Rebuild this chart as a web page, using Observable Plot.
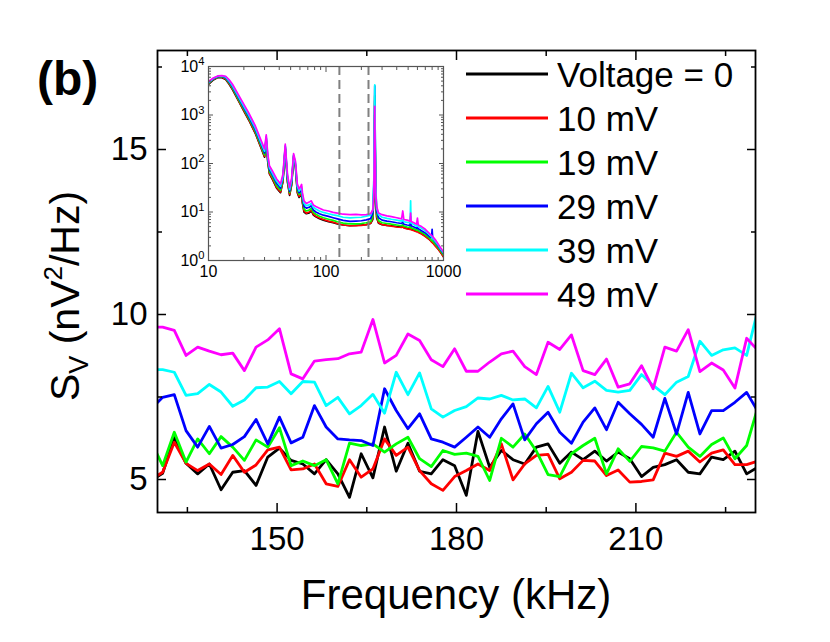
<!DOCTYPE html>
<html><head><meta charset="utf-8">
<script src="https://cdn.jsdelivr.net/npm/d3@7"></script>
<script src="https://cdn.jsdelivr.net/npm/@observablehq/plot@0.6"></script>
<style>
body{margin:0;background:#fff;}
#wrap{position:relative;width:830px;height:642px;}
</style></head><body><div id="wrap"></div>
<script>
// ---- series definitions ----
const seriesLabels = ["Voltage = 0", "10 mV", "19 mV", "29 mV", "39 mV", "49 mV"];
const seriesColors = ["#000000", "#ff0000", "#00ff00", "#0000ff", "#00ffff", "#ff00ff"];

// ---- main plot data (frequency in kHz, S_V in nV^2/Hz) ----
const freqs = [128.91,130.86,132.81,134.77,136.72,138.67,140.63,142.58,144.53,146.48,148.44,150.39,152.34,154.30,156.25,158.20,160.16,162.11,164.06,166.02,167.97,169.92,171.88,173.83,175.78,177.73,179.69,181.64,183.59,185.55,187.50,189.45,191.41,193.36,195.31,197.27,199.22,201.17,203.13,205.08,207.03,208.98,210.94,212.89,214.84,216.80,218.75,220.70,222.66,224.61,226.56,228.52,230.47];
const sv0mV  = [4.97,5.19,6.28,5.49,5.17,5.47,4.69,5.22,5.27,4.82, 5.68,5.95,5.58,5.47,5.17,5.60,5.17,4.46,5.78,5.05, 6.59,5.25,6.10,5.25,5.17,5.60,5.42,4.52,6.46,5.37, 5.88,5.60,5.47,5.98,6.08,5.49,5.83,5.60,5.86,5.56, 5.83,5.63,5.09,5.37,5.45,5.60,5.22,5.17,5.68,5.60, 5.86,5.17,5.38];
const sv10mV = [5.00,5.22,6.13,5.49,5.27,5.47,5.15,5.73,5.22,5.44, 5.90,5.98,5.29,5.32,5.47,4.87,4.79,5.60,5.07,5.32, 6.23,5.73,5.98,5.27,4.87,4.67,5.09,5.27,5.47,5.27, 6.08,4.99,5.47,5.73,5.76,5.02,5.22,5.58,5.56,5.12, 5.29,4.92,4.94,4.99,5.80,5.70,5.86,5.53,5.80,5.90, 5.45,5.45,5.56];
const sv19mV = [6.16,5.42,6.43,5.53,6.23,5.78,6.30,5.98,5.58,6.20, 5.98,6.57,5.42,5.56,5.42,5.60,4.87,6.10,6.03,6.08, 5.83,6.08,6.28,5.63,5.39,5.88,5.76,5.80,5.70,4.97, 6.25,5.98,6.38,5.86,5.15,5.09,5.78,6.03,6.25,5.17, 5.93,5.55,6.00,5.96,5.86,6.43,5.98,5.70,6.06,6.26, 5.63,6.03,7.24];
const sv29mV = [7.14,7.49,7.57,6.48,5.98,6.61,5.95,6.06,6.30,6.82, 6.08,6.89,6.11,6.28,7.24,6.59,6.23,6.20,6.18,6.03, 7.75,7.09,6.54,6.99,6.23,6.13,5.98,6.28,6.59,6.28, 6.84,7.29,6.20,6.69,7.04,6.43,6.10,6.74,7.17,6.51, 7.34,6.99,6.67,6.28,7.46,6.38,7.64,6.38,7.09,7.09, 7.34,7.64,7.04];
const sv39mV = [8.33,8.33,8.25,7.55,7.60,7.88,7.65,7.22,7.41,7.78, 7.80,7.97,7.60,7.97,7.95,7.24,7.49,6.99,7.24,7.58, 7.01,8.25,7.57,8.23,7.14,6.89,7.09,7.21,7.47,7.44, 7.55,7.41,7.44,7.17,7.82,7.04,8.22,7.78,7.98,7.70, 7.65,7.70,8.18,7.85,7.57,7.95,8.12,9.19,8.76,8.93, 8.99,8.76,10.2];
const sv49mV = [9.62,9.62,9.52,8.76,9.01,8.89,8.78,8.83,8.30,9.01, 9.23,9.57,8.20,8.05,8.59,8.63,8.66,8.81,8.86,9.85, 8.53,8.76,9.41,9.21,8.63,8.42,8.96,8.28,8.28,8.56, 8.81,8.89,8.42,8.18,9.16,8.94,9.38,8.30,8.18,8.65, 7.80,7.90,8.45,7.75,9.01,8.89,9.54,8.27,8.53,8.32, 7.77,9.28,8.90];

// ---- main axis ticks ----
const xMajorTicks = [150, 180, 210];
const xMinorTicks = [135, 165, 195, 225];
const yMajorTicks = [5, 10, 15];
const yMinorTicks = [7.5, 12.5, 17.5];

// ---- inset data (log-log spectrum, 10 - 1000 kHz) ----
const insetFreq = [10,11,12,13,14,15,16,18,20,22, 25,28,30,31,32,33,35,38,41,43, 45,47,49,51,53,55,57,59,61,62, 63,65,68,72,75,78,82,88,95,105, 115,125,140,160,180,200,220,240,250,255, 258,260,262,265,270,280,300,330,360,400, 440,450,460,490,520,525,530,560,590,600, 610,650,700,760,790,800,810,850,900,950, 1000];
const in0mV  = [4300,5300,5900,5900,5400,4300,3350,1950,1200,790, 420,210,135,290,104,61,47,31,25,42, 200,42,22,36,130,84,25,20,22,24, 15.5,10,9.2,9.6,10.5,8.7,8.0,7.3,6.8,6.3, 6.0,5.7,5.4,5.2,5.3,5.4,5.5,5.8,7,18, 200,1000,200,16,7.5,5.9,5.5,5.3,5.2,5.0, 4.9,5.1,4.8,4.6,4.5,5,4.4,4.2,4.0,4.1, 3.9,3.6,3.2,2.7,2.5,2.4,2.35,2.05,1.75,1.45, 1.2];
const in10mV = [4400,5400,6000,6000,5500,4400,3450,2000,1230,810, 430,215,140,300,108,63,49,32,26,43, 205,43,23,37,135,86,26,21,23,25, 16,10.5,9.5,10,11,9,8.2,7.5,7.0,6.5, 6.2,5.8,5.4,5.2,5.2,5.3,5.5,5.9,7.5,20, 250,2000,250,18,8,6.0,5.5,5.3,5.1,4.9, 4.8,5.0,4.7,4.5,4.4,5,4.3,4.1,3.9,4.0, 3.8,3.5,3.1,2.7,2.4,2.35,2.3,2.0,1.7,1.45, 1.2];
const in19mV = [4500,5500,6100,6150,5700,4600,3600,2100,1300,860, 460,230,150,320,115,68,53,35,28,46, 215,46,25,39,140,90,28,23,25,27, 18,11.5,10.5,11,12,9.8,9,8.2,7.6,7.1, 6.7,6.3,5.9,5.7,5.7,5.8,6.0,6.3,8,25, 350,2500,350,22,9,6.6,6.0,5.8,5.6,5.4, 5.2,5.5,5.1,4.9,4.8,6,4.7,4.5,4.2,4.3, 4.1,3.8,3.4,2.9,2.6,2.55,2.5,2.2,1.85,1.55, 1.3];
const in29mV = [4600,5600,6200,6300,5900,4800,3800,2250,1400,930, 500,250,165,340,125,75,58,39,31,50, 225,50,27,42,145,95,31,25,27,30, 20,13,12,12.5,13.5,11,10,9.2,8.6,8.1, 7.6,7.2,6.7,6.4,6.5,6.6,6.9,7.3,9.5,35, 550,4000,550,30,10.5,7.6,6.8,6.5,6.3,6.0, 5.8,6.2,5.6,5.4,5.3,8,5.2,4.9,4.6,4.8, 4.5,4.1,3.7,3.1,2.95,4.4,2.85,2.4,2.0,1.65, 1.4];
const in39mV = [4700,5700,6300,6400,6100,5000,4000,2400,1500,1000, 540,270,180,360,135,82,63,43,34,54, 235,54,29,45,150,100,34,27,30,33, 22,15,13.5,14,15,12.5,11.5,10.5,9.8,9.2, 8.7,8.4,7.8,7.6,7.7,7.8,8.2,8.6,11,40, 600,4200,600,35,12,8.8,7.8,7.4,7.1,6.8, 6.5,7.0,6.3,6.1,6.0,17,5.9,5.5,5.1,5.6, 5.0,4.6,4.1,3.4,3.1,3.0,2.9,2.5,2.1,1.7, 1.45];
const in49mV = [4900,5800,6400,6500,6300,5300,4300,2600,1650,1100, 600,300,200,390,150,90,70,48,38,60, 250,60,32,50,160,110,38,30,34,37, 25,17,15,16,17,14,13,12,11,10.5, 9.8,9.5,9.0,8.8,8.9,8.7,8.8,9.2,11,20, 200,1500,200,25,13,9.5,8.8,8.3,8.0,7.6, 7.2,10.5,7.0,6.8,6.5,9.5,6.4,6.0,5.6,7.5, 5.4,5.0,4.4,3.6,3.3,3.2,3.1,2.7,2.2,1.8, 1.5];
const insetMarkers = [130, 230]; // dashed lines marking the main-plot window
const insetXLabels = [10, 100, 1000];
const insetXMinor = [20,30,40,50,60,70,80,90,200,300,400,500,600,700,800,900];
const insetYMajor = [1, 10, 100, 1000, 10000];
const insetYMinor = [2,3,4,5,6,7,8,9,20,30,40,50,60,70,80,90,200,300,400,500,600,700,800,900,2000,3000,4000,5000,6000,7000,8000,9000];

// ---- build tables ----
const mainSeries = [sv0mV, sv10mV, sv19mV, sv29mV, sv39mV, sv49mV];
const insetSeries = [in0mV, in10mV, in19mV, in29mV, in39mV, in49mV];
const mainRows = mainSeries.map(vals => vals.map((v, i) => ({f: freqs[i], v})));
const insetRows = insetSeries.map(vals => vals.map((v, i) => ({f: insetFreq[i], v})));

const FONT = "'Liberation Sans', Arial, Helvetica, sans-serif";
const blank = () => "";

const main = Plot.plot({
  width: 830, height: 642,
  marginLeft: 157, marginRight: 75, marginTop: 50, marginBottom: 130,
  style: {fontFamily: FONT, background: "white", color: "black"},
  x: {domain: [130, 230]},
  y: {domain: [4, 18]},
  marks: [
    ...mainRows.map((rows, k) => Plot.line(rows, {x: "f", y: "v", stroke: seriesColors[k], strokeWidth: 2.8, clip: true})),
    Plot.frame({stroke: "black", strokeWidth: 1.8}),
    Plot.axisX(xMajorTicks, {anchor: "bottom", tickSize: -9, tickFormat: blank, strokeWidth: 1.5, label: null}),
    Plot.axisX(xMinorTicks, {anchor: "bottom", tickSize: -5, tickFormat: blank, strokeWidth: 1.5, label: null}),
    Plot.axisX(xMajorTicks, {anchor: "top", tickSize: -9, tickFormat: blank, strokeWidth: 1.5, label: null}),
    Plot.axisX(xMinorTicks, {anchor: "top", tickSize: -5, tickFormat: blank, strokeWidth: 1.5, label: null}),
    Plot.axisY(yMajorTicks, {anchor: "left", tickSize: -9, tickFormat: blank, strokeWidth: 1.5, label: null}),
    Plot.axisY(yMinorTicks, {anchor: "left", tickSize: -5, tickFormat: blank, strokeWidth: 1.5, label: null}),
    Plot.axisY(yMajorTicks, {anchor: "right", tickSize: -9, tickFormat: blank, strokeWidth: 1.5, label: null}),
    Plot.axisY(yMinorTicks, {anchor: "right", tickSize: -5, tickFormat: blank, strokeWidth: 1.5, label: null}),
    Plot.axisX(xMajorTicks, {anchor: "bottom", tickSize: 0, tickPadding: 14, fontSize: 33, label: null}),
    Plot.axisY(yMajorTicks, {anchor: "left", tickSize: 0, tickPadding: 10, fontSize: 33, label: null})
  ]
});

const inset = Plot.plot({
  width: 320, height: 240,
  marginLeft: 58, marginRight: 27, marginTop: 11, marginBottom: 35,
  style: {fontFamily: FONT, background: "transparent", color: "black"},
  x: {type: "log", domain: [10, 1000]},
  y: {type: "log", domain: [1, 10000]},
  marks: [
    ...insetRows.map((rows, k) => Plot.line(rows, {x: "f", y: "v", stroke: seriesColors[k], strokeWidth: 1.7, clip: true})),
    Plot.ruleX(insetMarkers, {stroke: "#808080", strokeWidth: 2, strokeDasharray: "9,5"}),
    Plot.frame({stroke: "#555", strokeWidth: 1.2}),
    Plot.axisX(insetXLabels, {anchor: "bottom", tickSize: -5, tickFormat: blank, stroke: "#555", label: null}),
    Plot.axisX(insetXMinor, {anchor: "bottom", tickSize: -3, tickFormat: blank, stroke: "#555", label: null}),
    Plot.axisX(insetXLabels, {anchor: "top", tickSize: -5, tickFormat: blank, stroke: "#555", label: null}),
    Plot.axisX(insetXMinor, {anchor: "top", tickSize: -3, tickFormat: blank, stroke: "#555", label: null}),
    Plot.axisY(insetYMajor, {anchor: "left", tickSize: -5, tickFormat: blank, stroke: "#555", label: null}),
    Plot.axisY(insetYMinor, {anchor: "left", tickSize: -3, tickFormat: blank, stroke: "#555", label: null}),
    Plot.axisY(insetYMajor, {anchor: "right", tickSize: -5, tickFormat: blank, stroke: "#555", label: null}),
    Plot.axisY(insetYMinor, {anchor: "right", tickSize: -3, tickFormat: blank, stroke: "#555", label: null}),
    Plot.axisX(insetXLabels, {anchor: "bottom", tickSize: 0, tickPadding: 5, fontSize: 16, tickFormat: d => String(d), label: null}),
    Plot.axisY(insetYMajor, {anchor: "left", tickSize: 0, tickPadding: 4, fontSize: 16, tickFormat: d => "10^" + Math.round(Math.log10(d)), label: null})
  ]
});

// superscript exponents on inset y labels
d3.select(inset).selectAll('g[aria-label="y-axis tick label"] text').each(function () {
  const t = this.textContent;
  if (!t.includes("^")) return;
  const [b, e] = t.split("^");
  const sel = d3.select(this);
  sel.text(null);
  sel.append("tspan").text(b);
  sel.append("tspan").attr("dy", "-0.55em").attr("font-size", "0.7em").text(e);
});

const wrap = document.getElementById("wrap");
main.style.position = "absolute"; main.style.left = "0px"; main.style.top = "0px";
inset.style.position = "absolute"; inset.style.left = "150px"; inset.style.top = "55px"; inset.style.overflow = "visible";
wrap.appendChild(main);
wrap.appendChild(inset);

const svg = d3.select(main);
// panel label
svg.append("text").attr("x", 37).attr("y", 95).attr("text-anchor", "start").attr("font-size", 48).attr("font-weight", "bold").attr("fill", "black").text("(b)");
// y title
const yt = svg.append("text").attr("transform", "translate(79,296) rotate(-90)").attr("text-anchor", "middle").attr("font-size", 41).attr("fill", "black");
yt.append("tspan").text("S");
yt.append("tspan").attr("font-size", 27).attr("dy", 9).text("V");
yt.append("tspan").attr("dy", -9).text(" (nV");
yt.append("tspan").attr("font-size", 26).attr("dy", -17).text("2");
yt.append("tspan").attr("dy", 17).text("/Hz)");
// x title
svg.append("text").attr("x", 456).attr("y", 609).attr("text-anchor", "middle").attr("font-size", 42).attr("fill", "black").text("Frequency (kHz)");
// legend
seriesLabels.forEach((lab, i) => {
  const y = 74 + 44 * i;
  svg.append("line").attr("x1", 466).attr("x2", 548).attr("y1", y).attr("y2", y).attr("stroke", seriesColors[i]).attr("stroke-width", 3);
  svg.append("text").attr("x", 557).attr("y", y).attr("dy", "0.36em").attr("text-anchor", "start").attr("font-size", 35).attr("fill", "black").text(lab);
});
</script></body></html>
